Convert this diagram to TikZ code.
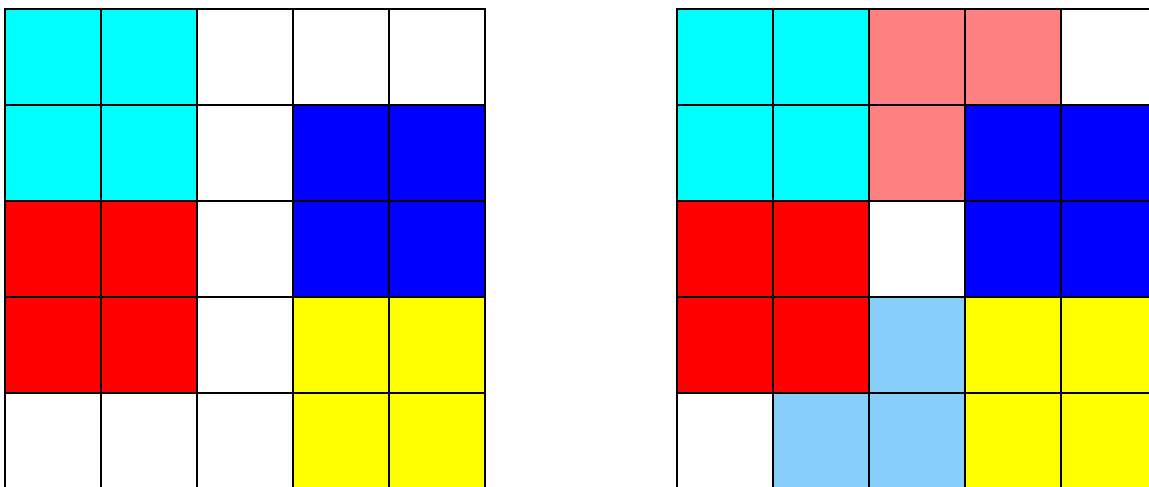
\documentclass[tikz,border=0pt]{standalone}
\definecolor{toska}{RGB}{0,255,255}
\definecolor{biru}{RGB}{0,0,255}
\definecolor{merah}{RGB}{255,0,0}
\definecolor{kuning}{RGB}{255,255,0}
\definecolor{merahmuda}{RGB}{255,128,128}
\definecolor{birulangit}{RGB}{135,206,250}
\tikzset{kotak/.style={draw=black, line width=0.35pt}}
\begin{document}
\begin{tikzpicture}[x=1cm, y=-1cm]
    % Batas gambar
    \useasboundingbox (0,0) rectangle (11.969,5.073);
    \clip (0,0) rectangle (11.969,5.073);

    % Kisi kiri
    \begin{scope}[shift={(0.052,0.094)}]
    \foreach \c [count=\i from 0] in {toska,toska,white,white,white,
                                      toska,toska,white,biru,biru,
                                      merah,merah,white,biru,biru,
                                      merah,merah,white,kuning,kuning,
                                      white,white,white,kuning,kuning} {
        \pgfmathtruncatemacro{\kol}{mod(\i,5)}
        \pgfmathtruncatemacro{\baris}{\i/5}
        \filldraw[kotak, fill=\c] (\kol,\baris) rectangle ++(1,1);
    }
    \end{scope}

    % Kisi kanan
    \begin{scope}[shift={(7.052,0.094)}]
    \foreach \c [count=\i from 0] in {toska,toska,merahmuda,merahmuda,white,
                                      toska,toska,merahmuda,biru,biru,
                                      merah,merah,white,biru,biru,
                                      merah,merah,birulangit,kuning,kuning,
                                      white,birulangit,birulangit,kuning,kuning} {
        \pgfmathtruncatemacro{\kol}{mod(\i,5)}
        \pgfmathtruncatemacro{\baris}{\i/5}
        \filldraw[kotak, fill=\c] (\kol,\baris) rectangle ++(1,1);
    }
    \end{scope}
\end{tikzpicture}
\end{document}
